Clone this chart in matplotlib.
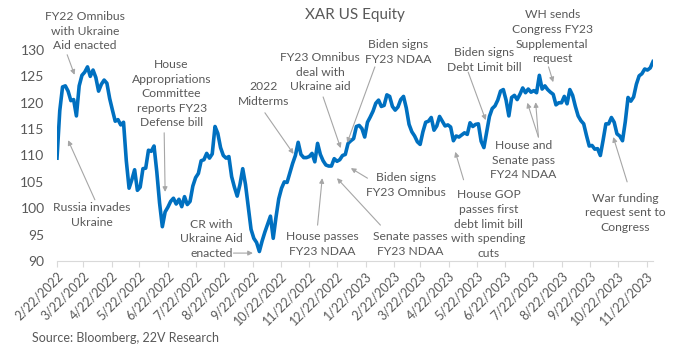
import pandas as pd
import matplotlib.pyplot as plt

# XAR US Equity, every 3 calendar days starting 2/22/2022
start_date = "2022-02-22"
step_days = 3
xar_values = [
    109.5, 118.5, 123.0, 123.2, 122.2, 120.4, 120.6, 117.5, 123.2, 125.2,
    125.8, 126.8, 125.0, 126.2, 124.8, 122.2, 123.5, 124.3, 123.7, 120.8,
    118.6, 116.5, 116.8, 115.8, 116.3, 109.0, 103.8, 105.4, 107.3, 103.4,
    104.0, 107.5, 107.6, 111.0, 110.8, 111.8, 106.9, 101.0, 96.5, 99.3,
    100.2, 101.3, 101.9, 100.8, 101.7, 100.3, 102.2, 100.7, 101.3, 104.2,
    105.8, 106.6, 109.0, 109.2, 110.4, 109.5, 110.3, 115.5, 114.2, 111.5,
    110.0, 109.5, 109.8, 106.0, 104.0, 102.3, 104.5, 107.5, 104.5, 100.3,
    96.0, 94.3, 93.5, 91.8, 93.8, 95.5, 97.0, 98.5, 94.3, 98.3,
    101.8, 103.8, 105.0, 104.9, 106.7, 108.5, 110.0, 112.5, 110.2, 109.6,
    109.6, 109.8, 110.4, 108.8, 112.3, 110.2, 109.0, 108.2, 108.0, 108.0,
    109.4, 108.9, 109.2, 110.0, 110.2, 112.3, 112.8, 113.2, 115.5, 115.7,
    115.1, 113.5, 116.3, 117.3, 118.4, 119.9, 120.5, 119.3, 119.5, 121.5,
    121.2, 119.3, 118.6, 119.2, 120.6, 121.2, 119.0, 115.9, 114.5, 113.7,
    112.6, 112.1, 114.5, 116.3, 116.5, 117.2, 114.8, 115.6, 117.4, 116.5,
    115.6, 115.8, 115.4, 112.8, 113.7, 113.5, 113.9, 114.3, 114.0, 116.2,
    115.5, 115.9, 116.0, 112.7, 111.5, 114.5, 117.4, 118.9, 119.4, 120.5,
    122.2, 122.5, 120.5, 117.5, 121.0, 121.4, 120.6, 121.6, 122.8, 121.9,
    122.6, 122.0, 122.3, 121.9, 125.2, 122.6, 123.2, 122.5, 122.0, 121.6,
    119.6, 120.0, 120.0, 121.2, 119.8, 122.5, 121.4, 119.3, 117.5, 116.6,
    116.0, 113.8, 111.8, 111.9, 111.2, 111.3, 110.0, 112.9, 116.0, 116.0,
    117.2, 116.3, 114.1, 113.7, 112.8, 116.4, 121.0, 120.3, 121.1, 123.5,
    125.1, 125.5, 126.4, 126.2, 126.6, 127.8,
]

tick_labels = [
    "2/22/2022", "3/22/2022", "4/22/2022", "5/22/2022", "6/22/2022", "7/22/2022",
    "8/22/2022", "9/22/2022", "10/22/2022", "11/22/2022", "12/22/2022", "1/22/2023",
    "2/22/2023", "3/22/2023", "4/22/2023", "5/22/2023", "6/22/2023", "7/22/2023",
    "8/22/2023", "9/22/2023", "10/22/2023", "11/22/2023",
]

# event labels: text, date, level of the text centre
event_labels = [
    ("FY22 Omnibus\nwith Ukraine\nAid enacted", "2022-03-24", 133.6),
    ("House\nAppropriations\nCommittee\nreports FY23\nDefense bill", "2022-06-26", 121.7),
    ("Russia invades\nUkraine", "2022-04-01", 98.7),
    ("CR with\nUkraine Aid\nenacted", "2022-08-08", 94.2),
    ("2022\nMidterms", "2022-10-04", 121.7),
    ("FY23 Omnibus\ndeal with\nUkraine aid", "2022-12-04", 125.8),
    ("Biden signs\nFY23 NDAA", "2023-02-26", 129.6),
    ("Biden signs\nFY23 Omnibus", "2023-03-07", 104.4),
    ("House passes\nFY23 NDAA", "2022-12-06", 93.2),
    ("Senate passes\nFY23 NDAA", "2023-03-11", 93.2),
    ("Biden signs\nDebt Limit bill", "2023-05-30", 128.1),
    ("House and\nSenate pass\nFY24 NDAA", "2023-07-12", 109.1),
    ("WH sends\nCongress FY23\nSupplemental\nrequest", "2023-08-12", 132.5),
    ("House GOP\npasses first\ndebt limit bill\nwith spending\ncuts", "2023-06-04", 97.0),
    ("War funding\nrequest sent to\nCongress", "2023-10-30", 99.1),
]

# arrows: tail date, tail level, head date, head level
event_arrows = [
    ("2022-03-05", 129.1, "2022-03-13", 125.3),
    ("2022-06-18", 114.3, "2022-06-19", 103.1),
    ("2022-04-04", 101.6, "2022-03-06", 112.9),
    ("2022-09-01", 91.5, "2022-09-22", 91.5),
    ("2022-10-05", 118.1, "2022-11-05", 110.3),
    ("2022-12-07", 121.1, "2022-12-26", 111.4),
    ("2023-02-01", 126.8, "2023-01-02", 112.4),
    ("2023-01-24", 105.7, "2023-01-06", 107.6),
    ("2022-12-01", 96.8, "2022-12-06", 105.7),
    ("2023-02-07", 96.8, "2022-12-22", 105.7),
    ("2023-05-13", 125.8, "2023-06-01", 116.7),
    ("2023-07-28", 113.5, "2023-07-16", 120.0),
    ("2023-07-28", 113.5, "2023-07-25", 120.1),
    ("2023-08-08", 126.8, "2023-08-13", 123.9),
    ("2023-05-08", 105.4, "2023-04-29", 110.7),
    ("2023-11-01", 105.0, "2023-10-17", 113.5),
]

plt.rcParams["font.family"] = ["Lato", "DejaVu Sans"]
grey = "#595959"

fig = plt.figure(figsize=(7, 3.54), dpi=100)
ax = fig.add_axes([57 / 700, 93 / 354, 596 / 700, 211 / 354])

dates = pd.date_range(start_date, periods=len(xar_values), freq=f"{step_days}D")
ax.plot(dates, xar_values, color="#0070C0", lw=2.6, solid_joinstyle="round")

ax.set_ylim(90, 130)
ax.set_yticks(range(90, 131, 5))
ax.set_xlim(pd.Timestamp("2022-02-22"), pd.Timestamp("2023-11-29"))
ax.set_xticks(pd.to_datetime(tick_labels, format="%m/%d/%Y"))
ax.set_xticklabels(tick_labels, rotation=45, ha="right", rotation_mode="anchor")

for side in ["left", "top", "right"]:
    ax.spines[side].set_visible(False)
ax.spines["bottom"].set_color("#d9d9d9")
ax.tick_params(axis="y", length=0, pad=9, labelcolor=grey, labelsize=10)
ax.tick_params(axis="x", length=4, color="#d9d9d9", labelcolor=grey, labelsize=9, pad=2)

for text, d, v in event_labels:
    ax.text(pd.Timestamp(d), v, text, ha="center", va="center", fontsize=8.7,
            color=grey, linespacing=1.4, clip_on=False)

for d0, v0, d1, v1 in event_arrows:
    ax.annotate("", xy=(pd.Timestamp(d1), v1), xytext=(pd.Timestamp(d0), v0),
                arrowprops=dict(arrowstyle="-|>", color="#a6a6a6", lw=0.8,
                                mutation_scale=7, shrinkA=0, shrinkB=0),
                annotation_clip=False)

fig.text(355 / 700, 1 - 15 / 354, "XAR US Equity", ha="center", va="center",
         fontsize=11, color=grey)
fig.text(32 / 700, 1 - 338 / 354, "Source: Bloomberg, 22V Research", ha="left",
         va="center", fontsize=9, color=grey)

fig.savefig("out.png", dpi=100)
